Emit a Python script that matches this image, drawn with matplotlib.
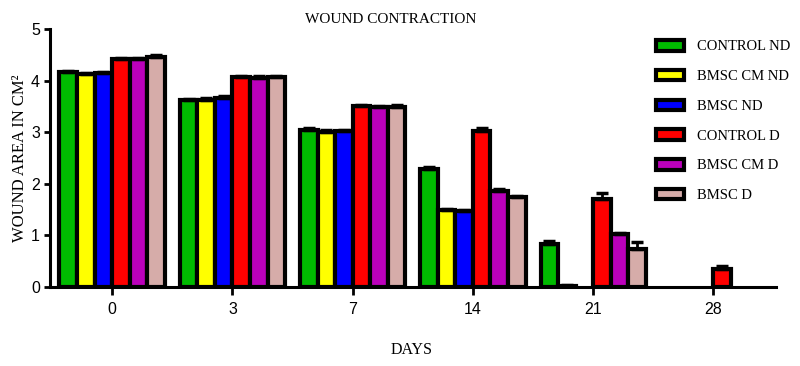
import matplotlib
matplotlib.use("Agg")
import matplotlib.pyplot as plt
import numpy as np

DAYS = ["0", "3", "7", "14", "21", "28"]
GROUPS = ["CONTROL ND", "BMSC CM ND", "BMSC ND", "CONTROL D", "BMSC CM D", "BMSC D"]

control_nd = [4.18, 3.62, 3.05, 2.29, 0.83, 0.0]
bmsc_cm_nd = [4.14, 3.63, 3.01, 1.49, 0.02, 0.0]
bmsc_nd = [4.15, 3.67, 3.03, 1.48, 0.0, 0.0]
control_d = [4.42, 4.07, 3.52, 3.03, 1.70, 0.35]
bmsc_cm_d = [4.42, 4.06, 3.49, 1.86, 1.03, 0.0]
bmsc_d = [4.47, 4.07, 3.50, 1.74, 0.74, 0.0]

err_control_nd = [0.02, 0.03, 0.04, 0.04, 0.07, 0.0]
err_bmsc_cm_nd = [0.02, 0.03, 0.04, 0.02, 0.02, 0.0]
err_bmsc_nd = [0.02, 0.03, 0.02, 0.02, 0.0, 0.0]
err_control_d = [0.02, 0.03, 0.02, 0.05, 0.13, 0.06]
err_bmsc_cm_d = [0.03, 0.03, 0.02, 0.04, 0.02, 0.0]
err_bmsc_d = [0.03, 0.03, 0.03, 0.03, 0.14, 0.0]

COLORS = ["#00BB00", "#FFFF00", "#0000FF", "#FF0000", "#BB00BB", "#D6ACA9"]

SERIF = "Liberation Serif"
plt.rcParams["font.family"] = "Liberation Sans"

series = [control_nd, bmsc_cm_nd, bmsc_nd, control_d, bmsc_cm_d, bmsc_d]
errors = [err_control_nd, err_bmsc_cm_nd, err_bmsc_nd, err_control_d, err_bmsc_cm_d, err_bmsc_d]

fig = plt.figure(figsize=(8, 3.66), dpi=100)
ax = fig.add_axes([0.062, 0.216, 0.908, 0.704])

x = np.arange(len(DAYS))
width = 0.146

for j, (name, values, err, color) in enumerate(zip(GROUPS, series, errors, COLORS)):
    values = np.array(values)
    err = np.array(err)
    pos = x + (j - 2.5) * width
    # zero-height bars are left out, as in the original figure
    shown = values > 0
    ax.bar(pos[shown], values[shown], width, color=color, edgecolor="black",
           linewidth=3.0, label=name, zorder=2)
    mask = err > 0
    ax.errorbar(pos[mask], values[mask],
                yerr=[np.zeros(mask.sum()), err[mask]],
                fmt="none", ecolor="black", elinewidth=2, capsize=4, capthick=2.5,
                zorder=3)

ax.set_xlim(-0.52, 5.52)
ax.set_ylim(0, 5)
ax.set_xticks(x)
ax.set_xticklabels(DAYS)
ax.set_yticks(np.arange(0, 6, 1))

ax.spines["top"].set_visible(False)
ax.spines["right"].set_visible(False)
ax.spines["left"].set_linewidth(2.2)
ax.spines["bottom"].set_linewidth(2.2)
ax.tick_params(axis="both", labelsize=11.5)
ax.tick_params(axis="y", width=2, length=4, pad=3)
ax.tick_params(axis="x", width=2, length=6, pad=5)

ax.set_ylabel("WOUND AREA IN CM²", fontfamily=SERIF, fontsize=12, labelpad=2)
fig.text(391 / 800, 1 - 19.5 / 366, "WOUND CONTRACTION", fontfamily=SERIF,
         fontsize=11, ha="center", va="center")
fig.text(412 / 800, 1 - 350 / 366, "DAYS", fontfamily=SERIF,
         fontsize=11.5, ha="center", va="center")

fig.legend(loc="upper left", bbox_to_anchor=(656 / 800, 1 - 40 / 366),
           frameon=False, prop={"family": SERIF, "size": 10.5},
           handlelength=1.9, handleheight=0.75, handletextpad=0.9,
           labelspacing=1.12, borderpad=0, borderaxespad=0)

fig.savefig("out.png", dpi=100)
